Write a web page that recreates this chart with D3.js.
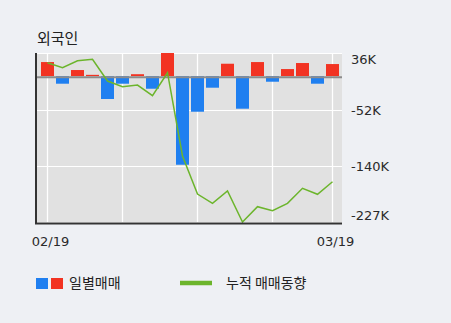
<!DOCTYPE html>
<html>
<head>
<meta charset="utf-8">
<script src="https://cdn.jsdelivr.net/npm/d3@7"></script>
<style>
  html, body { margin: 0; padding: 0; background: #eef0f4; }
  svg { display: block; }
</style>
</head>
<body>
<svg id="chart" width="451" height="323"></svg>
<script>
// ---- data (values in thousands of shares) ----
const days = d3.range(20);
const dailyNet = [21.9, -11.8, 9.5, 2, -35.6, -11.8, 3, -19.6, 36, -137.9,
                  -55.4, -18, 19.3, -50.7, 21.9, -8.7, 11, 20.4, -11.8, 18.8];
const cumulative = [20.9, 13.1, 24, 26.1, -7.6, -16.5, -13.9, -30.5, 5.3, -124.3,
                    -183.5, -197.9, -178.8, -227, -203.2, -209.5, -197.9, -174.6, -183.9, -164.3];
const yTicks = [36, -52, -140, -227];
const yTickLabels = ["36K", "-52K", "-140K", "-227K"];
const xTickIdx = [0, 19];
const xTickLabels = ["02/19", "03/19"];
const vGridIdx = [0, 5, 10, 15, 19];
const title = "외국인";
const legendBars = "일별매매";
const legendLine = "누적 매매동향";

// ---- layout ----
const svg = d3.select("#chart");
const plot = { left: 37, right: 342, top: 53, bottom: 222 };
const RED = "#f23322", BLUE = "#1f7ff0", GREEN = "#6cb52c";

const x = d3.scaleBand().domain(days).range([40, 340]).paddingInner(2 / 15).paddingOuter(1 / 15);
const y = d3.scaleLinear().domain([-227, 36]).range([plot.bottom, plot.top]);
const cx = i => x(i) + x.bandwidth() / 2;

// background
svg.append("rect").attr("x", plot.left).attr("y", plot.top)
  .attr("width", plot.right - plot.left).attr("height", plot.bottom - plot.top + 1)
  .attr("fill", "#e1e1e1");

// grid
svg.append("g").selectAll("line").data(yTicks).join("line")
  .attr("x1", plot.left).attr("x2", plot.right)
  .attr("y1", d => Math.round(y(d)) + 0.5).attr("y2", d => Math.round(y(d)) + 0.5)
  .attr("stroke", "#fff").attr("stroke-width", 1);
svg.append("g").selectAll("line").data(vGridIdx).join("line")
  .attr("x1", d => cx(d)).attr("x2", d => cx(d))
  .attr("y1", plot.top).attr("y2", plot.bottom)
  .attr("stroke", "#fff").attr("stroke-width", 1.3);

// bars
svg.append("g").selectAll("rect").data(days).join("rect")
  .attr("x", i => x(i)).attr("width", x.bandwidth())
  .attr("y", i => dailyNet[i] >= 0 ? y(dailyNet[i]) : y(0))
  .attr("height", i => Math.abs(y(dailyNet[i]) - y(0)))
  .attr("fill", i => dailyNet[i] >= 0 ? RED : BLUE);

// zero line
svg.append("line").attr("x1", plot.left).attr("x2", plot.right)
  .attr("y1", y(0) + 1).attr("y2", y(0) + 1)
  .attr("stroke", "#8c8c8c").attr("stroke-width", 2);

// cumulative line
svg.append("path").datum(days)
  .attr("d", d3.line().x(i => cx(i)).y(i => y(cumulative[i])))
  .attr("fill", "none").attr("stroke", GREEN).attr("stroke-width", 1.5);

// axes lines
svg.append("line").attr("x1", 36).attr("x2", 36).attr("y1", plot.top).attr("y2", plot.bottom + 2)
  .attr("stroke", "#333").attr("stroke-width", 2);
svg.append("line").attr("x1", 35).attr("x2", plot.right).attr("y1", plot.bottom + 1.5).attr("y2", plot.bottom + 1.5)
  .attr("stroke", "#333").attr("stroke-width", 2);

// y tick labels
const nf = "'DejaVu Sans', sans-serif";
svg.append("g").selectAll("text").data(yTicks).join("text")
  .attr("x", 351)
  .attr("y", (d, i) => i === 0 ? y(d) + 11 : (i === yTicks.length - 1 ? y(d) - 2 : y(d) + 5))
  .attr("font-family", nf).attr("font-size", 13).attr("fill", "#2a2a2a")
  .text((d, i) => yTickLabels[i]);

// x tick labels
svg.append("g").selectAll("text").data(xTickIdx).join("text")
  .attr("x", d => cx(d) + 3).attr("y", 246)
  .attr("text-anchor", "middle")
  .attr("font-family", nf).attr("font-size", 13).attr("fill", "#2a2a2a")
  .text((d, i) => xTickLabels[i]);

// title
const kf = "'Noto Sans CJK KR', sans-serif";
svg.append("text").attr("x", 37).attr("y", 43.5)
  .attr("font-family", kf).attr("font-size", 15).attr("fill", "#222").text(title);

// legend
svg.append("rect").attr("x", 36).attr("y", 278).attr("width", 12).attr("height", 11).attr("fill", BLUE);
svg.append("rect").attr("x", 51).attr("y", 278).attr("width", 12).attr("height", 11).attr("fill", RED);
svg.append("text").attr("x", 69).attr("y", 288)
  .attr("font-family", kf).attr("font-size", 14).attr("fill", "#222").text(legendBars);
svg.append("line").attr("x1", 180).attr("x2", 212).attr("y1", 283).attr("y2", 283)
  .attr("stroke", GREEN).attr("stroke-width", 4.5);
svg.append("text").attr("x", 226).attr("y", 288)
  .attr("font-family", kf).attr("font-size", 14).attr("fill", "#222").text(legendLine);
</script>
</body>
</html>
